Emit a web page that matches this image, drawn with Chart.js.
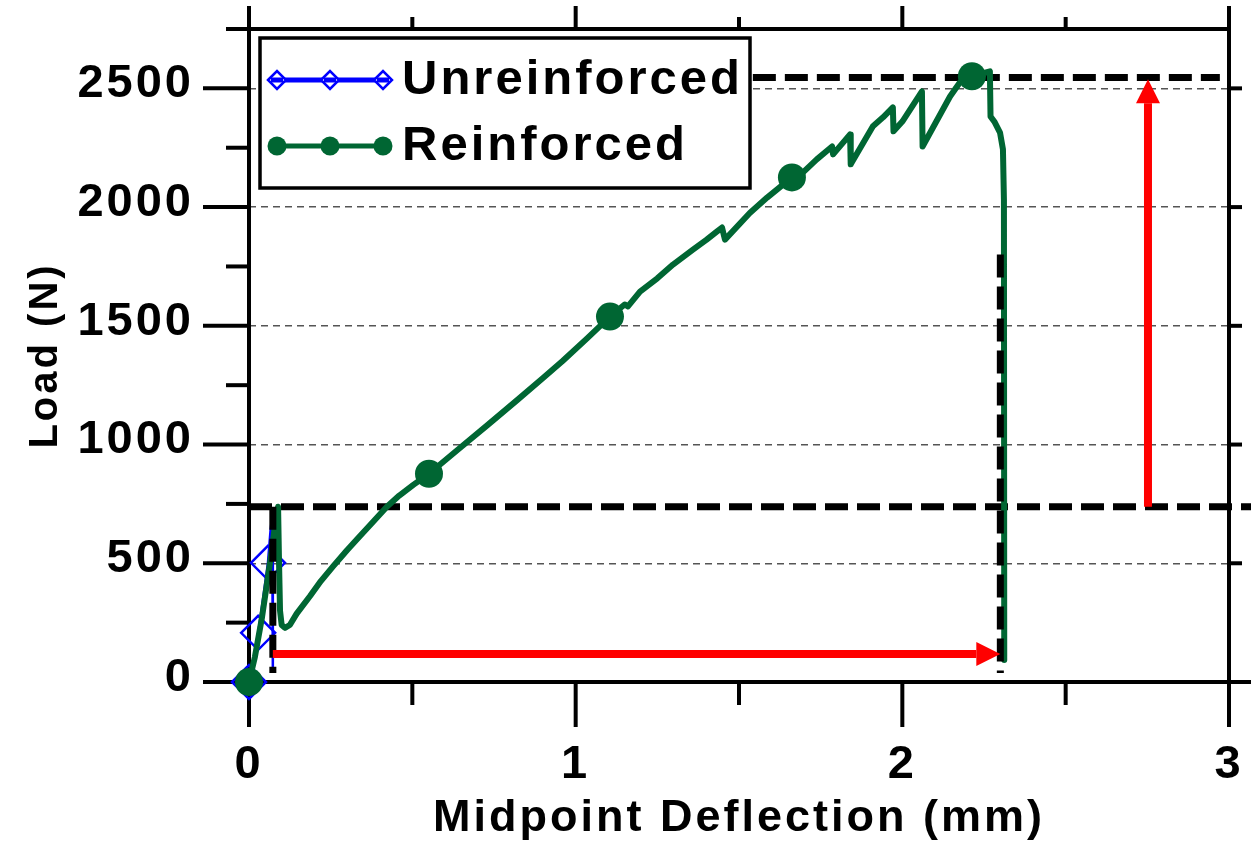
<!DOCTYPE html>
<html>
<head>
<meta charset="utf-8">
<title>Load vs midpoint deflection</title>
<script src="https://cdn.jsdelivr.net/npm/chart.js@4.4.1/dist/chart.umd.min.js"></script>
<style>
  html, body { margin: 0; background: #fff; }
  #wrap { width: 1251px; height: 852px; }
</style>
</head>
<body>
<div id="wrap"><canvas id="loadChart"></canvas></div>
<script>
const FONT = "'Liberation Sans', Arial, Helvetica, sans-serif";
const GREEN = "#006633";
const BLUE = "#0000FF";
const RED = "#FF0000";
const NONE = "rgba(0,0,0,0)";

// axis ticks (mm / N)
const xMajor = [0, 1, 2, 3];
const xMinor = [0.5, 1.5, 2.5];
const yMajor = [0, 500, 1000, 1500, 2000, 2500];
const yMinor = [250, 750, 1250, 1750, 2250, 2750];

// reinforced beam: deflection (mm) and load (N)
const reinfX = [0, 0.018, 0.040, 0.058, 0.070, 0.083, 0.089, 0.092, 0.095, 0.100, 0.110,
  0.125, 0.146, 0.187, 0.220, 0.258, 0.300, 0.330, 0.380, 0.422, 0.460, 0.503, 0.551,
  0.640, 0.730, 0.820, 0.900, 0.960, 1.035, 1.105, 1.150, 1.160, 1.197, 1.250, 1.298,
  1.359, 1.400, 1.432, 1.448, 1.457, 1.533, 1.586, 1.662, 1.696, 1.738, 1.785, 1.788,
  1.840, 1.842, 1.910, 1.941, 1.971, 1.973, 2.000, 2.060, 2.062, 2.146, 2.176, 2.213,
  2.268, 2.270, 2.283, 2.299, 2.308, 2.311, 2.312];
const reinfY = [0, 105, 274, 443, 556, 696, 738, 500, 300, 240, 228,
  240, 288, 362, 425, 488, 555, 600, 675, 738, 785, 830, 877,
  979, 1082, 1186, 1280, 1352, 1447, 1539, 1590, 1582, 1644, 1700, 1758,
  1821, 1862, 1897, 1914, 1863, 1975, 2040, 2125, 2146, 2201, 2255, 2222,
  2306, 2180, 2340, 2378, 2420, 2319, 2360, 2487, 2255, 2466, 2525, 2551,
  2572, 2382, 2357, 2314, 2243, 2032, 93];
const reinfMarks = [0, 0.551, 1.105, 1.662, 2.213];

// unreinforced beam
const unreX = [0, 0.012, 0.028, 0.042, 0.058, 0.066, 0.071, 0.073, 0.073];
const unreY = [0, 80, 207, 340, 502, 640, 700, 690, 60];
const unreMarks = [0, 0.028, 0.058];

// failure load / deflection guides
const guideLow = [[0, 738], [3.07, 738]];
const guideUnreDefl = [[0.073, 738], [0.073, 38]];
const guidePeak = [[0.073, 2546], [2.972, 2546]];
const guideReinfDefl = [[2.30, 1800], [2.30, 38]];

// arrows: deflection gain and load gain
const arrowDefl = [[0.073, 118], [2.30, 118]];
const arrowLoad = [[2.752, 738], [2.752, 2538]];

const toPts = (xs, ys) => xs.map((x, i) => ({ x, y: ys[i] }));
const pairPts = (pairs) => pairs.map(([x, y]) => ({ x, y }));

function guide(pairs) {
  return {
    data: pairPts(pairs),
    showLine: true,
    borderColor: "#000",
    borderWidth: 7,
    borderDash: [23, 9],
    pointRadius: 0,
    clip: false,
  };
}

const framePlugin = {
  id: "frame",
  beforeDatasetsDraw(chart) {
    const { ctx, scales: { x, y } } = chart;
    const x0 = x.getPixelForValue(0), x3 = x.getPixelForValue(3);
    const y0 = y.getPixelForValue(0), yTop = y.getPixelForValue(2750);
    ctx.save();
    ctx.strokeStyle = "#000";
    ctx.lineWidth = 4;
    ctx.lineCap = "butt";
    const seg = (ax, ay, bx, by) => {
      ctx.beginPath();
      ctx.moveTo(ax, ay);
      ctx.lineTo(bx, by);
      ctx.stroke();
    };
    seg(x0, yTop - 23, x0, y0 + 45);
    seg(x3, yTop - 23, x3, y0 + 45);
    seg(x0, yTop, x3, yTop);
    seg(x0 - 46, y0, chart.width, y0);
    yMajor.forEach(v => {
      const p = y.getPixelForValue(v);
      seg(x0 - 46, p, x0, p);
      seg(x3, p, x3 + 13, p);
    });
    yMinor.forEach(v => {
      const p = y.getPixelForValue(v);
      seg(x0 - 23, p, x0, p);
    });
    xMajor.forEach(v => {
      const p = x.getPixelForValue(v);
      seg(p, y0, p, y0 + 45);
      seg(p, yTop, p, yTop - 23);
    });
    xMinor.forEach(v => {
      const p = x.getPixelForValue(v);
      seg(p, y0, p, y0 + 23);
      seg(p, yTop, p, yTop - 12);
    });
    ctx.restore();
  },
};

function drawArrow(ctx, x, y, pair) {
  const ax = x.getPixelForValue(pair[0][0]), ay = y.getPixelForValue(pair[0][1]);
  const bx = x.getPixelForValue(pair[1][0]), by = y.getPixelForValue(pair[1][1]);
  const ang = Math.atan2(by - ay, bx - ax);
  const head = 24, half = 12;
  const cx = bx - head * Math.cos(ang), cy = by - head * Math.sin(ang);
  ctx.strokeStyle = RED;
  ctx.fillStyle = RED;
  ctx.lineWidth = 8;
  ctx.beginPath();
  ctx.moveTo(ax, ay);
  ctx.lineTo(cx, cy);
  ctx.stroke();
  ctx.beginPath();
  ctx.moveTo(bx, by);
  ctx.lineTo(cx - half * Math.sin(ang), cy + half * Math.cos(ang));
  ctx.lineTo(cx + half * Math.sin(ang), cy - half * Math.cos(ang));
  ctx.closePath();
  ctx.fill();
}

const overlayPlugin = {
  id: "overlay",
  beforeDraw(chart) {
    chart.ctx.letterSpacing = "3px";
  },
  afterDatasetsDraw(chart) {
    const { ctx, chartArea, scales: { x, y } } = chart;
    ctx.save();
    drawArrow(ctx, x, y, arrowDefl);
    drawArrow(ctx, x, y, arrowLoad);

    // legend box
    const L = chartArea.left + 11, T = chartArea.top + 9;
    ctx.fillStyle = "#fff";
    ctx.fillRect(L, T, 490, 150);
    ctx.strokeStyle = "#000";
    ctx.lineWidth = 3.5;
    ctx.strokeRect(L, T, 490, 150);

    const rows = [
      { label: "Unreinforced", color: BLUE, diamond: true, yy: T + 42 },
      { label: "Reinforced", color: GREEN, diamond: false, yy: T + 108 },
    ];
    rows.forEach(r => {
      ctx.strokeStyle = r.color;
      ctx.fillStyle = r.color;
      ctx.lineWidth = 5;
      ctx.beginPath();
      ctx.moveTo(L + 17, r.yy);
      ctx.lineTo(L + 123, r.yy);
      ctx.stroke();
      [L + 17, L + 70, L + 123].forEach(mx => {
        ctx.beginPath();
        if (r.diamond) {
          ctx.moveTo(mx - 9, r.yy);
          ctx.lineTo(mx, r.yy - 9);
          ctx.lineTo(mx + 9, r.yy);
          ctx.lineTo(mx, r.yy + 9);
          ctx.closePath();
          ctx.fillStyle = "#fff";
          ctx.fill();
          ctx.lineWidth = 2.5;
          ctx.stroke();
          ctx.lineWidth = 5;
          ctx.beginPath();
          ctx.moveTo(mx - 6, r.yy);
          ctx.lineTo(mx + 6, r.yy);
          ctx.stroke();
        } else {
          ctx.arc(mx, r.yy, 9.5, 0, Math.PI * 2);
          ctx.fill();
        }
      });
      ctx.fillStyle = "#000";
      ctx.font = "bold 49px " + FONT;
      ctx.textAlign = "left";
      ctx.textBaseline = "middle";
      ctx.fillText(r.label, L + 142, r.yy);
    });
    ctx.restore();
  },
};

Chart.defaults.font.family = FONT;
Chart.defaults.color = "#000";

// dataset 0 is painted last, so the list runs from top layer to bottom layer
new Chart(document.getElementById("loadChart"), {
  type: "scatter",
  data: {
    datasets: [
      guide(guideUnreDefl),
      guide(guideReinfDefl),
      {
        label: "Reinforced",
        data: toPts(reinfX, reinfY),
        showLine: true,
        borderColor: GREEN,
        backgroundColor: GREEN,
        borderWidth: 6,
        borderJoinStyle: "round",
        borderCapStyle: "round",
        pointRadius: ctx => (reinfMarks.includes(reinfX[ctx.dataIndex]) ? 14 : 0),
        pointBorderWidth: 0,
        clip: false,
      },
      guide(guidePeak),
      guide(guideLow),
      {
        label: "Unreinforced",
        data: toPts(unreX, unreY),
        showLine: true,
        borderColor: BLUE,
        borderWidth: 2.5,
        pointStyle: "rectRot",
        pointRadius: ctx => (unreMarks.includes(unreX[ctx.dataIndex]) ? 17 : 0),
        pointBackgroundColor: NONE,
        pointBorderColor: BLUE,
        pointBorderWidth: 2.5,
        clip: false,
      },
    ],
  },
  options: {
    responsive: true,
    maintainAspectRatio: false,
    animation: false,
    events: [],
    layout: {
      padding: { top: 29, right: 22, left: 0, bottom: 0 },
    },
    plugins: {
      legend: { display: false },
      tooltip: { enabled: false },
    },
    scales: {
      x: {
        type: "linear",
        min: 0,
        max: 3,
        afterBuildTicks: s => { s.ticks = xMajor.map(value => ({ value })); },
        afterFit: s => { s.height = 170; },
        // tick marks are drawn by the frame plugin; tickLength only spaces the labels
        grid: { color: NONE, tickColor: NONE, drawTicks: true, tickLength: 55 },
        border: { display: false },
        ticks: {
          padding: 0,
          callback: v => String(v),
          font: { size: 47, weight: "bold" },
        },
        title: {
          display: true,
          text: "Midpoint Deflection (mm)",
          padding: { top: 0, bottom: 6 },
          font: { size: 45, weight: "bold" },
        },
      },
      y: {
        min: 0,
        max: 2750,
        afterBuildTicks: s => { s.ticks = yMajor.map(value => ({ value })); },
        afterFit: s => { s.width = 249; },
        grid: {
          drawTicks: true,
          tickLength: 55,
          tickColor: NONE,
          lineWidth: 1.5,
          color: ctx => (ctx.tick && ctx.tick.value === 0 ? NONE : "#555"),
        },
        border: { display: false, dash: [7, 5] },
        ticks: {
          padding: 0,
          labelOffset: -4,
          callback: v => String(v),
          font: { size: 47, weight: "bold" },
        },
        title: {
          display: true,
          text: "Load (N)",
          padding: { top: 22, bottom: 0 },
          font: { size: 40, weight: "bold" },
        },
      },
    },
  },
  plugins: [framePlugin, overlayPlugin],
});
</script>
</body>
</html>
